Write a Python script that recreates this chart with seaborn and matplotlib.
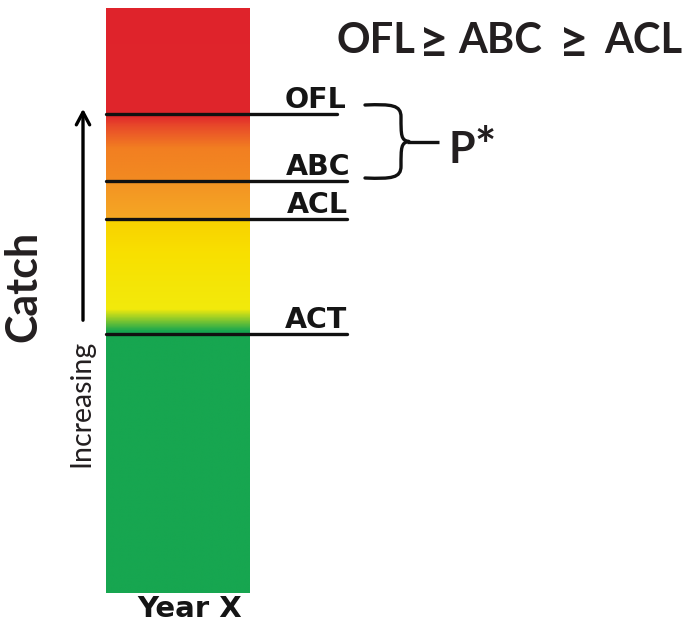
import numpy as np
import pandas as pd
import matplotlib
matplotlib.use("Agg")
import matplotlib.pyplot as plt
import seaborn as sns
from matplotlib.colors import LinearSegmentedColormap
from matplotlib.path import Path
from matplotlib.patches import PathPatch

# ---- data (catch scale, bottom of bar = 0, top = 585) ----
levels = ["OFL", "ABC", "ACL", "ACT"]
level_values = [479, 412, 374, 259]
bar_top = 585
title_parts = ["OFL", "\u2265", "ABC", "\u2265", "ACL"]
pstar_text = "P*"
xlabel_text = "Year X"
ylabel_text = "Catch"
arrow_text = "Increasing"

# colour stops along the catch scale
stop_values = [0, 262, 284, 340, 372, 375, 377, 410, 414, 445, 468, 478, 585]
stop_colors = ["#17A650", "#17A650", "#F2EA0C", "#F8E000", "#F9D200", "#F7B020",
               "#F5A623", "#F39424", "#F28A22", "#F27F21", "#E8482A", "#E0262C", "#DF232B"]

sns.set_theme(style="white")
plt.rcParams["font.family"] = ["Lato", "DejaVu Sans"]

fig = plt.figure(figsize=(6.86, 6.22), dpi=100)
ax = fig.add_axes([0, 0, 1, 1])
ax.set_xlim(0, 686)
y0 = 622 - 593
ax.set_ylim(0, 622)
ax.axis("off")

# gradient bar
cmap = LinearSegmentedColormap.from_list(
    "catch", [(v / bar_top, c) for v, c in zip(stop_values, stop_colors)], N=1024)
grad = np.linspace(0, 1, 1200).reshape(-1, 1)
bx0, bx1 = 106, 250
ax.imshow(grad, cmap=cmap, aspect="auto", origin="lower",
          extent=(bx0, bx1, y0, y0 + bar_top), interpolation="bilinear", zorder=1)

# level lines and labels
line_ends = {"OFL": 337, "ABC": 347, "ACL": 347, "ACT": 347}
label_right = {"OFL": 346, "ABC": 350, "ACL": 348, "ACT": 347}
rows = []
for name, v in zip(levels, level_values):
    rows.append({"level": name, "x": bx0, "y": y0 + v})
    rows.append({"level": name, "x": line_ends[name], "y": y0 + v})
df = pd.DataFrame(rows)
sns.lineplot(data=df, x="x", y="y", units="level", estimator=None, color="#111111",
             linewidth=2.4, ax=ax, legend=False, zorder=3, sort=False)
for name, v in zip(levels, level_values):
    ax.text(label_right[name], y0 + v + 6, name, ha="right", va="baseline",
            fontsize=20.5, fontweight="bold", family=["DejaVu Sans"],
            color="#151515", zorder=4)

# title, built from pieces so the relation signs are full cap height
title_x = [337, 433.5, 458, 574, 682]
title_ha = ["left", "center", "left", "center", "right"]
for txt, x, ha in zip(title_parts, title_x, title_ha):
    if txt == "\u2265":
        ax.text(x, 622 - 58, txt, ha=ha, va="baseline", fontsize=37,
                fontweight="bold", color="#231F20")
    else:
        ax.text(x, 622 - 53, txt, ha=ha, va="baseline", fontsize=30,
                fontweight="bold", color="#231F20")

# brace
top_y = 622 - 105
bot_y = 622 - 178
mid_y = (top_y + bot_y) / 2
verts = [(365, top_y), (392, top_y + 1), (401, top_y), (401, top_y - 12),
         (401, mid_y + 6), (401, mid_y + 1), (409, mid_y),
         (401, mid_y - 1), (401, mid_y - 6), (401, bot_y + 12),
         (401, bot_y), (392, bot_y - 1), (365, bot_y)]
codes = [Path.MOVETO, Path.CURVE4, Path.CURVE4, Path.LINETO,
         Path.CURVE4, Path.CURVE4, Path.CURVE4,
         Path.CURVE4, Path.CURVE4, Path.LINETO,
         Path.CURVE4, Path.CURVE4, Path.CURVE4]
ax.add_patch(PathPatch(Path(verts, codes), fill=False, lw=2.4, ec="#111111",
                       capstyle="round", joinstyle="round", zorder=4))
ax.plot([407, 439], [mid_y, mid_y], color="#111111", lw=2.4, solid_capstyle="butt")
ax.text(449, 622 - 163, "P", ha="left", va="baseline", fontsize=31,
        fontweight="bold", color="#231F20")
ax.text(474, 622 - 163, "*", ha="left", va="baseline", fontsize=36,
        fontweight="bold", color="#231F20")

# arrow + y labels
ax.annotate("", xy=(83, 622 - 106), xytext=(83, 622 - 323),
            arrowprops=dict(arrowstyle="->,head_length=0.75,head_width=0.4",
                            lw=2.4, color="black"))
ax.text(43, 622 - 286, ylabel_text, rotation=90, ha="right", va="center",
        fontsize=31, fontweight="bold", color="#231F20")
ax.text(94, 622 - 403, arrow_text, rotation=90, ha="right", va="center",
        fontsize=20.5, color="#231F20")

# x label
ax.text(190, 622 - 617, xlabel_text, ha="center", va="baseline",
        fontsize=21, fontweight="bold", family=["DejaVu Sans"],
        color="#151515")

fig.savefig("out.png", dpi=100)
